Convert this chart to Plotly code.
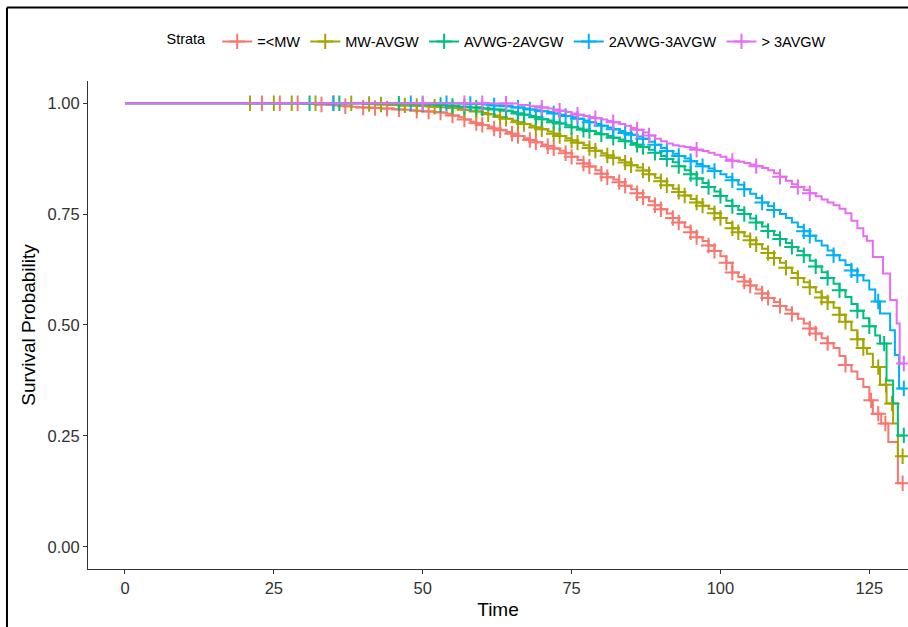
import numpy as np
import plotly.graph_objects as go

# strata names and colours (ggplot default hue palette)
strata = ["=<MW", "MW-AVGW", "AVWG-2AVGW", "2AVWG-3AVGW", "> 3AVGW"]
colors = ["#F8766D", "#A3A500", "#00BF7D", "#00B0F6", "#E76BF3"]

# step points (time, survival)
t_mw = [0, 30, 31, 32, 33, 34, 35, 36, 37, 38, 39, 40, 41, 42, 43, 44, 45, 46, 47, 48, 49, 50,
        51, 52, 53, 54, 55, 56, 57, 58, 59, 60, 61, 62, 63, 64, 65, 66, 67, 68, 69, 70, 71, 72,
        73, 74, 75, 76, 77, 78, 79, 80, 81, 82, 83, 84, 85, 86, 87, 88, 89, 90, 91, 92, 93, 94,
        95, 96, 97, 98, 99, 100, 101, 102, 103, 104, 105, 106, 107, 108, 109, 110, 111, 112,
        113, 114, 115, 116, 117, 118, 119, 120, 121, 122, 123, 124, 125, 125.6, 127, 128.2,
        129.8, 130.6]
s_mw = [1, .998, .998, .997, .997, .996, .995, .994, .993, .992, .991, .990, .990, .989, .988,
        .988, .987, .986, .985, .984, .983, .982, .981, .980, .979, .976, .972, .968, .963, .958,
        .955, .951, .947, .943, .939, .935, .931, .926, .921, .917, .912, .907, .903, .898, .893,
        .887, .879, .872, .864, .857, .849, .841, .833, .828, .822, .814, .806, .797, .788, .779,
        .770, .761, .751, .741, .731, .720, .709, .698, .689, .679, .667, .655, .640, .618, .608,
        .598, .589, .580, .571, .561, .552, .543, .534, .525, .514, .503, .492, .481, .470, .459,
        .448, .430, .410, .395, .378, .360, .330, .300, .278, .236, .143, .143]

t_avgw = [0, 40, 42, 44, 46, 48, 50, 52, 53, 54, 55, 56, 57, 58, 59, 60, 61, 62, 63, 64, 65, 66,
          67, 68, 69, 70, 71, 72, 73, 74, 75, 76, 77, 78, 79, 80, 81, 82, 83, 84, 85, 86, 87,
          88, 89, 90, 91, 92, 93, 94, 95, 96, 97, 98, 99, 100, 101, 102, 103, 104, 105, 106,
          107, 108, 109, 110, 111, 112, 113, 114, 115, 116, 117, 118, 119, 120, 121, 122, 123,
          124, 124.6, 125.6, 126.8, 127.9, 129, 129.8, 130.6]
s_avgw = [1, .998, .997, .996, .995, .994, .993, .992, .991, .990, .989, .987, .985, .983, .981,
          .978, .975, .972, .969, .965, .961, .957, .953, .949, .945, .941, .936, .931, .926,
          .921, .916, .911, .905, .899, .893, .887, .882, .877, .872, .866, .860, .855, .848,
          .840, .832, .824, .815, .807, .800, .792, .784, .776, .769, .762, .752, .741, .730,
          .718, .709, .700, .691, .682, .672, .662, .651, .640, .629, .617, .606, .596, .585,
          .574, .562, .551, .539, .523, .507, .488, .468, .448, .435, .405, .365, .323, .278,
          .204, .204]

t_2avgw = [0, 45, 48, 50, 52, 54, 56, 58, 60, 62, 64, 65, 66, 67, 68, 69, 70, 71, 72, 73, 74,
           75, 76, 77, 78, 79, 80, 81, 82, 83, 84, 85, 86, 87, 88, 89, 90, 91, 92, 93, 94, 95,
           96, 97, 98, 99, 100, 101, 102, 103, 104, 105, 106, 107, 108, 109, 110, 111, 112, 113,
           114, 115, 116, 117, 118, 119, 120, 121, 122, 123, 124, 125, 126, 126.8, 127.9, 129,
           129.8, 130.8]
s_2avgw = [1, .999, .998, .997, .996, .994, .992, .990, .988, .986, .983, .980, .977, .974, .971,
           .968, .964, .961, .957, .954, .950, .946, .943, .940, .937, .933, .930, .926, .922,
           .918, .914, .910, .906, .901, .895, .888, .881, .874, .867, .858, .849, .840, .830,
           .820, .811, .801, .791, .780, .768, .759, .750, .740, .731, .722, .712, .703, .694,
           .685, .676, .667, .657, .645, .632, .619, .606, .593, .578, .563, .547, .532, .515,
           .497, .476, .458, .375, .323, .251, .251]

t_3avgw = [0, 56, 58, 60, 62, 64, 65, 66, 67, 68, 69, 70, 71, 72, 73, 74, 75, 76, 77, 78, 79,
           80, 81, 82, 83, 84, 85, 86, 87, 88, 89, 90, 91, 92, 93, 94, 95, 96, 97, 98, 99, 100,
           101, 102, 103, 104, 105, 106, 107, 108, 109, 110, 111, 112, 113, 114, 115, 116, 117,
           118, 119, 120, 121, 122, 123, 124, 125, 126, 126.8, 128.5, 129.3, 130, 130.8]
s_3avgw = [1, .999, .998, .997, .995, .993, .991, .990, .988, .986, .984, .982, .980, .977, .974,
           .971, .968, .965, .961, .957, .953, .949, .945, .941, .937, .933, .929, .925, .920,
           .913, .906, .899, .892, .886, .881, .875, .869, .863, .858, .853, .847, .840, .833,
           .826, .816, .806, .796, .786, .776, .768, .759, .750, .741, .731, .721, .711, .701,
           .690, .679, .668, .657, .646, .635, .623, .612, .600, .580, .553, .526, .488, .432,
           .357, .357]

t_gt3 = [0, 62, 64, 66, 68, 70, 71, 72, 73, 74, 75, 76, 77, 78, 79, 80, 81, 82, 83, 84, 85, 86,
         87, 88, 89, 90, 91, 92, 93, 94, 95, 96, 97, 98, 99, 100, 101, 102, 103, 104, 105, 106,
         107, 108, 109, 110, 111, 112, 113, 114, 115, 116, 117, 118, 119, 120, 121, 122, 123,
         124, 124.6, 125.6, 127.3, 128.5, 129.6, 130.1, 130.8]
s_gt3 = [1, .9995, .999, .996, .993, .990, .988, .986, .983, .980, .977, .974, .971, .969, .966,
         .963, .960, .957, .953, .949, .944, .940, .934, .927, .920, .914, .909, .905, .903,
         .901, .899, .895, .892, .888, .884, .879, .873, .870, .868, .865, .862, .858, .854,
         .849, .842, .834, .825, .817, .811, .804, .797, .790, .783, .776, .770, .762, .752,
         .735, .718, .700, .690, .653, .616, .556, .503, .413, .413]

# censoring times
c_mw = [23, 26, 29, 33, 37, 40, 42, 44, 46, 49, 51, 53, 55, 57, 59, 60, 62, 63, 65, 66, 68, 69,
        71, 72, 74, 75, 77, 78, 80, 81, 83, 84, 86, 87, 89, 90, 92, 93, 95, 96, 98, 99, 101, 102,
        104, 105, 107, 108, 110, 112, 115, 116, 118, 121, 125.3, 126.5, 127.7, 130.6]
c_avgw = [21, 25, 28, 32, 35, 38, 41, 43, 47, 49, 52, 55, 57, 59, 61, 63, 64, 66, 67, 69, 70, 72,
          73, 75, 76, 78, 79, 81, 82, 84, 85, 87, 88, 90, 91, 93, 94, 96, 97, 99, 100, 102, 103,
          105, 106, 108, 109, 111, 113, 115, 117, 118, 120, 121, 123, 124, 126.5, 127.8, 128.8,
          130.6]
c_2avgw = [31, 36, 46, 50, 53, 55, 57, 59, 60, 62, 64, 66, 67, 69, 70, 72, 73, 75, 77, 78, 80,
           82, 84, 86, 87, 89, 91, 93, 95, 96, 98, 100, 102, 104, 106, 108, 110, 112, 114, 116,
           118, 120, 123, 125, 127.5, 130.8]
c_3avgw = [35, 48, 54, 58, 62, 64, 66, 68, 70, 72, 74, 76, 78, 80, 82, 84, 85, 87, 89, 91, 93,
           95, 97, 99, 102, 104, 107, 109, 114, 115, 119, 122, 123, 126.5, 130.8]
c_gt3 = [50, 57, 60, 64, 70, 73, 76, 79, 82, 86, 88, 96, 102, 106, 110, 113, 115, 130.8]

curves = [(t_mw, s_mw, c_mw), (t_avgw, s_avgw, c_avgw), (t_2avgw, s_2avgw, c_2avgw),
          (t_3avgw, s_3avgw, c_3avgw), (t_gt3, s_gt3, c_gt3)]

fig = go.Figure()
for name, col, (t, s, c) in zip(strata, colors, curves):
    t = np.array(t)
    s = np.array(s)
    c = np.array(c)
    # survival at each censor time (step lookup)
    idx = np.searchsorted(t, c, side="right") - 1
    fig.add_trace(go.Scatter(x=t, y=s, mode="lines", line=dict(color=col, width=2, shape="hv"),
                             name=name, legendgroup=name, showlegend=False, hoverinfo="skip"))
    fig.add_trace(go.Scatter(x=c, y=s[idx], mode="markers", name=name, legendgroup=name,
                             marker=dict(symbol="cross-thin", size=11, color=col,
                                         line=dict(color=col, width=2)),
                             showlegend=False))
    # legend entry: line + cross
    fig.add_trace(go.Scatter(x=[None], y=[None], mode="lines+markers", name=name,
                             legendgroup=name,
                             line=dict(color=col, width=2),
                             marker=dict(symbol="cross-thin", size=11, color=col,
                                         line=dict(color=col, width=2))))

# frame of the screenshot (top and left)
fig.add_shape(type="line", xref="paper", yref="paper", x0=-0.0988, x1=1.0, y0=1.1505, y1=1.1505,
              line=dict(color="black", width=2))
fig.add_shape(type="line", xref="paper", yref="paper", x0=-0.0988, x1=-0.0988, y0=-0.2, y1=1.1505,
              line=dict(color="black", width=2))

axis_font = dict(family="Liberation Sans, Arial, sans-serif", size=16.5, color="#333333")
fig.update_layout(
    width=908, height=627,
    margin=dict(l=88, r=0, t=80.5, b=58),
    paper_bgcolor="white", plot_bgcolor="white",
    font=dict(family="Liberation Sans, Arial, sans-serif", color="black"),
    legend=dict(orientation="h", x=0.5, xanchor="center", y=1.081, yanchor="middle",
                title=dict(text="Strata ", side="left", font=dict(size=14.5)),
                font=dict(size=14.5), itemwidth=30, tracegroupgap=0),
    xaxis=dict(range=[-6.21, 131.5], tickvals=[0, 25, 50, 75, 100, 125],
               showgrid=False, zeroline=False, showline=True, linecolor="#333333",
               linewidth=1.2, ticks="outside", ticklen=4, tickcolor="#333333",
               tickfont=axis_font,
               title=dict(text="Time", font=dict(size=19, color="black"), standoff=6)),
    yaxis=dict(range=[-0.0502, 1.05], tickvals=[0, 0.25, 0.5, 0.75, 1.0], tickformat=".2f",
               showgrid=False, zeroline=False, showline=True, linecolor="#333333",
               linewidth=1.2, ticks="outside", ticklen=4, tickcolor="#333333",
               tickfont=axis_font,
               title=dict(text="Survival Probability", font=dict(size=19, color="black"),
                          standoff=6)),
)

# page without the default body margin, so the figure fills the window
fig.write_html("out.html", config={"displayModeBar": False},
               post_script="document.body.style.margin='0';document.body.style.overflow='hidden';")
